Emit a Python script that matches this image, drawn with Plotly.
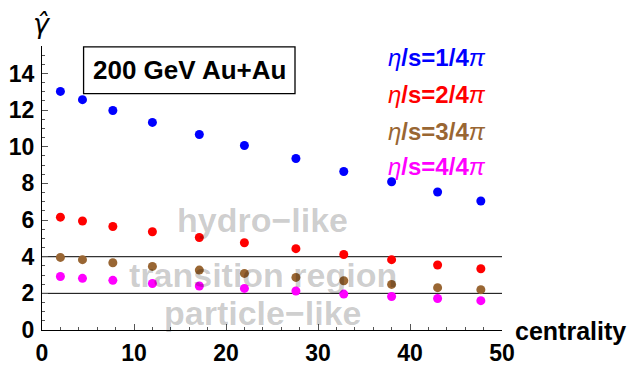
import plotly.graph_objects as go

# centrality bin centres (%)
centrality = [2.0, 4.4, 7.7, 12.0, 17.1, 22.0, 27.6, 32.8, 38.0, 43.0, 47.7]

# inverse Knudsen number estimate for each shear viscosity
gamma_eta1 = [13.02, 12.57, 11.98, 11.33, 10.67, 10.07, 9.36, 8.65, 8.09, 7.53, 7.04]
gamma_eta2 = [6.16, 5.95, 5.65, 5.36, 5.05, 4.76, 4.44, 4.12, 3.84, 3.55, 3.34]
gamma_eta3 = [3.96, 3.84, 3.67, 3.47, 3.27, 3.09, 2.87, 2.69, 2.49, 2.31, 2.20]
gamma_eta4 = [2.92, 2.82, 2.71, 2.54, 2.40, 2.27, 2.13, 1.96, 1.83, 1.72, 1.60]

series_labels = ["1/4", "2/4", "3/4", "4/4"]
series_colors = ["#0000ff", "#ff0000", "#996633", "#ff00ff"]
label_y = [14.86, 12.84, 10.82, 8.91]

region_bounds = [4, 2]
region_names = ["hydro\u2212like", "transition region", "particle\u2212like"]
region_y = [6.0, 3.0, 0.92]

FONT = "Liberation Sans"
X_MAX, Y_MAX = 50, 15.5

fig = go.Figure()

for ys, col in zip([gamma_eta1, gamma_eta2, gamma_eta3, gamma_eta4], series_colors):
    fig.add_trace(go.Scatter(
        x=centrality, y=ys, mode="markers",
        marker=dict(color=col, size=9, line=dict(width=0)),
        showlegend=False, cliponaxis=False,
    ))

# boundaries between the regimes
for yb in region_bounds:
    fig.add_shape(type="line", xref="x", yref="y", x0=0, x1=X_MAX, y0=yb, y1=yb,
                  line=dict(color="black", width=1), layer="below")

# regime labels, translucent so the points show through
for name, yy in zip(region_names, region_y):
    fig.add_annotation(x=24, y=yy, xref="x", yref="y", text=name, showarrow=False,
                       font=dict(family=FONT, size=34, color="rgba(0,0,0,0.2)", weight="bold"),
                       xanchor="center", yanchor="middle")

# series labels
thin = "<span style='font-weight:normal'><i>{}</i></span>"
for lab, col, yy in zip(series_labels, series_colors, label_y):
    fig.add_annotation(x=37.4, y=yy, xref="x", yref="y",
                       text=thin.format("\u03b7") + f"/s={lab}" + thin.format("\u03c0"),
                       showarrow=False,
                       font=dict(family=FONT, size=24, color=col, weight="bold"),
                       xanchor="left", yanchor="middle")

# collision system box
fig.add_shape(type="rect", xref="x", yref="y", x0=4.52, x1=27.5, y0=12.9, y1=15.45,
              line=dict(color="black", width=1.3), fillcolor="white", layer="above")
fig.add_annotation(x=16.0, y=14.18, xref="x", yref="y", text="200 GeV Au+Au",
                   showarrow=False, font=dict(family=FONT, size=26, color="black", weight="bold"),
                   xanchor="center", yanchor="middle")

# axis titles (placed in paper coordinates, outside the data range)
fig.add_annotation(x=0, y=1.08, xref="paper", yref="paper", text="<i>\u03b3\u0302</i>",
                   showarrow=False, font=dict(family="DejaVu Sans", size=27, color="black"),
                   xanchor="center", yanchor="middle")
fig.add_annotation(x=1.024, y=-0.003, xref="paper", yref="paper", text="centrality",
                   showarrow=False, font=dict(family=FONT, size=25, color="black", weight="bold"),
                   xanchor="left", yanchor="middle")

tickfont = dict(family=FONT, size=23, color="black", weight="bold")
fig.update_xaxes(range=[0, X_MAX], dtick=10, tick0=0, ticks="inside", ticklen=6,
                 tickcolor="#555555", tickwidth=1, showline=True, linecolor="black",
                 linewidth=1, showgrid=False, zeroline=False, tickfont=tickfont,
                 minor=dict(dtick=2, ticks="inside", ticklen=3, tickcolor="#555555"),
                 ticklabelstandoff=2, automargin=False)
fig.update_yaxes(range=[0, Y_MAX], dtick=2, tick0=0, ticks="inside", ticklen=6,
                 tickcolor="#555555", tickwidth=1, showline=True, linecolor="black",
                 linewidth=1, showgrid=False, zeroline=False, tickfont=tickfont,
                 minor=dict(dtick=0.5, ticks="inside", ticklen=3, tickcolor="#555555"),
                 ticklabelstandoff=2, automargin=False)

fig.update_layout(
    width=631, height=365,
    margin=dict(l=42, r=129, t=46, b=35),
    plot_bgcolor="white", paper_bgcolor="white",
)

fig.write_html("out.html")
